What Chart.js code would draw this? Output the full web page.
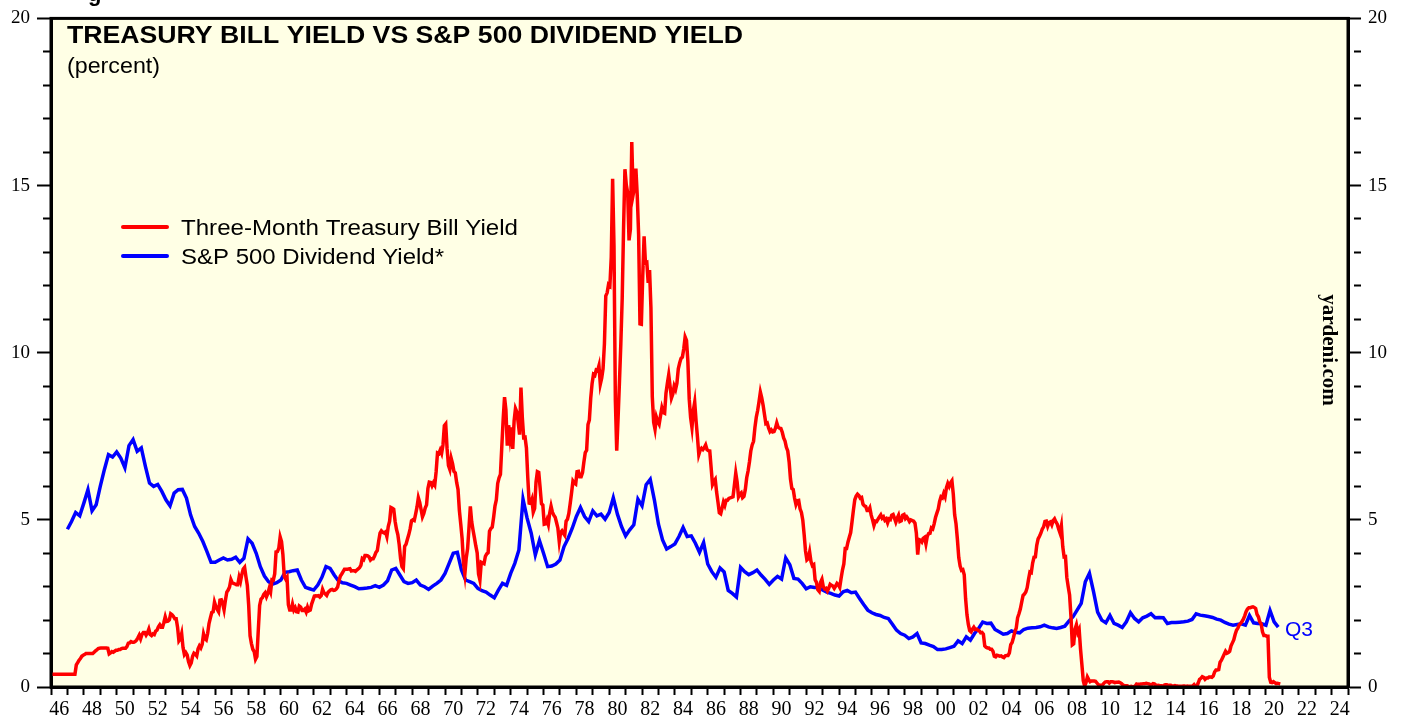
<!DOCTYPE html>
<html>
<head>
<meta charset="utf-8">
<script src="https://cdn.jsdelivr.net/npm/chart.js@4.4.1/dist/chart.umd.min.js"></script>
<style>
  html, body { margin: 0; padding: 0; background: #fff; }
  #wrap { width: 1407px; height: 719px; }
</style>
</head>
<body>
<div id="wrap"><canvas id="chart" width="1407" height="719"></canvas></div>
<script>
// Three-month T-bill yield, monthly from Jan 1946 (percent)
const tbillStart = 1946;
const tbillYield = [
  0.38,0.38,0.38,0.38,0.38,0.38,0.38,0.38,0.38,0.38,0.38,0.38,
  0.38,0.38,0.38,0.38,0.38,0.38,0.66,0.73,0.80,0.85,0.92,0.95,
  0.97,1.00,1.00,1.00,1.00,1.00,1.00,1.04,1.08,1.11,1.15,1.16,
  1.17,1.17,1.17,1.17,1.17,1.16,0.99,1.02,1.06,1.04,1.07,1.10,
  1.10,1.12,1.12,1.15,1.16,1.16,1.16,1.21,1.31,1.32,1.36,1.34,
  1.34,1.36,1.40,1.47,1.55,1.44,1.57,1.63,1.63,1.55,1.62,1.73,
  1.57,1.54,1.59,1.57,1.67,1.70,1.80,1.86,1.79,1.79,1.93,2.10,
  1.96,1.97,2.01,2.19,2.16,2.11,2.04,2.04,1.79,1.38,1.44,1.60,
  1.18,0.97,1.03,0.96,0.76,0.64,0.72,0.92,1.01,0.98,0.93,1.14,
  1.23,1.17,1.28,1.59,1.45,1.41,1.60,1.90,2.07,2.23,2.25,2.54,
  2.41,2.32,2.25,2.60,2.61,2.49,2.31,2.60,2.84,2.90,2.99,3.21,
  3.11,3.10,3.08,3.06,3.06,3.29,3.16,3.37,3.53,3.58,3.29,3.04,
  2.44,1.53,1.30,1.13,1.06,0.83,0.91,1.69,2.44,2.63,2.67,2.77,
  2.82,2.70,2.80,2.95,2.84,3.21,3.20,3.38,4.04,4.05,4.15,4.49,
  4.35,3.96,3.31,3.23,3.29,2.46,2.30,2.30,2.48,2.30,2.37,2.25,
  2.24,2.42,2.39,2.29,2.29,2.33,2.24,2.39,2.28,2.30,2.48,2.60,
  2.72,2.73,2.72,2.73,2.69,2.73,2.92,2.82,2.78,2.74,2.83,2.87,
  2.91,2.92,2.89,2.90,2.93,2.99,3.18,3.32,3.38,3.45,3.52,3.52,
  3.52,3.53,3.54,3.47,3.48,3.48,3.46,3.50,3.53,3.57,3.64,3.84,
  3.81,3.93,3.93,3.92,3.89,3.80,3.84,3.84,3.92,4.03,4.08,4.36,
  4.60,4.67,4.63,4.61,4.64,4.50,4.80,4.96,5.37,5.35,5.32,4.96,
  4.72,4.56,4.26,3.84,3.60,3.54,4.21,4.27,4.42,4.56,4.73,4.97,
  5.00,4.98,5.17,5.38,5.66,5.52,5.31,5.09,5.19,5.35,5.45,5.94,
  6.13,6.12,6.02,6.11,6.04,6.44,7.00,6.98,7.09,6.99,7.24,7.82,
  7.87,7.13,6.63,6.51,6.84,6.68,6.45,6.41,6.12,5.91,5.28,4.87,
  4.44,3.70,3.38,3.86,4.14,4.75,5.40,4.94,4.69,4.46,4.22,4.01,
  3.38,3.20,3.73,3.71,3.69,3.91,3.98,4.02,4.66,4.74,4.78,5.07,
  5.41,5.60,6.09,6.26,6.36,7.19,8.01,8.67,8.29,7.22,7.83,7.45,
  7.77,7.12,7.96,8.33,8.23,7.90,7.55,8.96,8.06,7.46,7.47,7.15,
  6.26,5.50,5.49,5.61,5.23,5.34,6.13,6.44,6.42,5.96,5.48,5.44,
  4.87,4.88,5.00,4.86,5.20,5.41,5.23,5.14,5.08,4.92,4.75,4.35,
  4.62,4.67,4.60,4.54,4.96,5.02,5.19,5.49,5.81,6.16,6.10,6.07,
  6.44,6.45,6.29,6.29,6.41,6.73,7.01,7.08,7.85,7.99,8.64,9.08,
  9.35,9.32,9.48,9.46,9.61,9.06,9.24,9.52,10.26,11.70,11.79,12.04,
  12.00,12.86,15.20,13.20,8.58,7.07,8.06,9.13,10.27,11.62,13.73,15.49,
  15.02,14.79,13.36,13.69,16.30,14.73,14.95,15.51,14.70,13.54,10.86,10.85,
  12.28,13.48,12.68,12.70,12.09,12.47,11.35,8.68,7.92,7.71,8.07,7.94,
  7.86,8.11,8.35,8.21,8.19,8.79,9.08,9.34,9.00,8.64,8.76,9.00,
  8.90,9.09,9.52,9.69,9.83,9.87,10.12,10.47,10.37,9.74,8.61,8.06,
  7.76,8.27,8.52,7.95,7.48,6.95,7.08,7.14,7.10,7.16,7.24,7.10,
  7.07,7.06,6.56,6.06,6.15,6.21,5.83,5.53,5.21,5.18,5.35,5.53,
  5.43,5.59,5.59,5.64,5.66,5.67,5.69,6.04,6.40,6.13,5.69,5.77,
  5.81,5.66,5.70,5.91,6.26,6.46,6.73,7.06,7.24,7.35,7.76,8.07,
  8.27,8.53,8.82,8.65,8.43,8.15,7.88,7.90,7.75,7.64,7.69,7.63,
  7.64,7.74,7.90,7.77,7.74,7.73,7.62,7.45,7.36,7.17,7.06,6.74,
  6.22,5.94,5.91,5.65,5.46,5.57,5.58,5.33,5.22,4.99,4.56,4.07,
  3.80,3.84,4.04,3.75,3.63,3.66,3.21,3.13,2.91,2.86,3.13,3.22,
  3.00,2.93,2.95,2.87,2.96,3.07,3.04,3.02,2.95,3.02,3.10,3.06,
  2.98,3.25,3.50,3.68,4.14,4.14,4.33,4.48,4.62,4.95,5.29,5.60,
  5.71,5.77,5.73,5.65,5.67,5.47,5.42,5.40,5.28,5.28,5.36,5.14,
  5.00,4.83,4.96,4.95,5.02,5.09,5.15,5.05,5.09,4.99,5.03,4.91,
  5.03,5.01,5.14,5.16,5.05,4.93,5.05,5.14,4.95,4.97,5.14,5.16,
  5.04,5.09,5.03,4.95,5.00,4.98,4.96,4.90,4.61,3.96,4.41,4.39,
  4.34,4.45,4.48,4.28,4.51,4.59,4.60,4.76,4.73,4.88,5.07,5.20,
  5.32,5.55,5.69,5.66,5.79,5.69,5.96,6.09,6.00,6.11,6.17,5.77,
  5.15,4.88,4.42,3.87,3.62,3.49,3.51,3.36,2.64,2.16,1.87,1.69,
  1.65,1.73,1.79,1.72,1.73,1.70,1.68,1.62,1.63,1.58,1.23,1.19,
  1.17,1.17,1.13,1.13,1.07,0.92,0.90,0.95,0.94,0.92,0.93,0.90,
  0.88,0.93,0.94,0.94,1.02,1.27,1.33,1.48,1.65,1.76,2.07,2.19,
  2.33,2.54,2.74,2.78,2.84,2.97,3.22,3.44,3.42,3.71,3.88,3.89,
  4.24,4.43,4.51,4.60,4.72,4.79,4.95,4.96,4.81,4.92,4.94,4.85,
  4.98,5.03,4.94,4.87,4.73,4.61,4.82,4.20,3.89,3.90,3.27,3.00,
  2.75,2.12,1.26,1.29,1.73,1.86,1.63,1.72,1.13,0.67,0.19,0.03,
  0.13,0.30,0.22,0.16,0.18,0.18,0.18,0.17,0.12,0.07,0.05,0.05,
  0.06,0.11,0.15,0.16,0.16,0.12,0.16,0.16,0.15,0.13,0.14,0.14,
  0.15,0.13,0.10,0.06,0.04,0.04,0.04,0.02,0.01,0.02,0.01,0.01,
  0.03,0.09,0.08,0.08,0.09,0.09,0.10,0.10,0.11,0.10,0.09,0.07,
  0.07,0.10,0.09,0.06,0.04,0.05,0.04,0.04,0.02,0.05,0.07,0.07,
  0.04,0.05,0.05,0.03,0.03,0.04,0.03,0.03,0.02,0.02,0.02,0.03,
  0.03,0.02,0.03,0.02,0.02,0.02,0.03,0.07,0.02,0.02,0.12,0.23,
  0.26,0.31,0.29,0.23,0.27,0.27,0.30,0.30,0.29,0.33,0.45,0.51,
  0.51,0.52,0.74,0.80,0.89,0.98,1.07,1.01,1.03,1.07,1.23,1.32,
  1.41,1.57,1.70,1.76,1.86,1.90,1.96,2.03,2.13,2.25,2.33,2.37,
  2.37,2.39,2.40,2.38,2.35,2.17,2.10,1.95,1.89,1.65,1.54,1.54,
  1.52,1.52,0.29,0.14,0.13,0.16,0.13,0.10,0.11,0.10,0.09
];

// S&P 500 dividend yield, quarterly from 1947 Q1 (percent)
const divStart = 1947;
const divYield = [
  4.72,4.95,5.22,5.12,  5.50,5.90,5.27,5.45,  6.00,6.50,6.95,6.88,
  7.03,6.85,6.56,7.22,  7.40,7.05,7.15,6.60,  6.10,6.00,6.06,5.85,
  5.60,5.42,5.80,5.90,  5.91,5.65,5.15,4.80,  4.60,4.35,4.05,3.73,
  3.73,3.80,3.86,3.80,  3.82,3.88,3.73,3.85,  4.43,4.30,4.00,3.60,
  3.32,3.15,3.08,3.12,  3.20,3.43,3.45,3.48,  3.50,3.20,2.98,2.94,
  2.90,3.05,3.28,3.60,  3.55,3.35,3.18,3.12,  3.10,3.05,3.00,2.94,
  2.95,2.96,2.98,3.03,  2.98,3.05,3.18,3.50,  3.55,3.35,3.15,3.10,
  3.12,3.20,3.05,3.00,  2.92,3.02,3.10,3.20,  3.40,3.70,4.00,4.03,
  3.50,3.20,3.15,3.10,  2.95,2.88,2.84,2.75,  2.67,2.90,3.10,3.04,
  3.40,3.70,4.10,5.62,  5.05,4.60,3.95,4.38,  4.00,3.60,3.62,3.68,
  3.80,4.20,4.45,4.75,  5.10,5.37,5.10,4.95,  5.27,5.12,5.17,5.02,
  5.22,5.66,5.17,4.80,  4.52,4.70,4.85,5.62,  5.42,6.05,6.21,5.60,
  4.87,4.40,4.13,4.20,  4.28,4.50,4.77,4.50,  4.52,4.30,4.03,4.32,
  3.68,3.45,3.28,3.56,  3.44,2.89,2.80,2.69,  3.58,3.45,3.36,3.42,
  3.50,3.35,3.22,3.07,  3.20,3.31,3.23,3.86,  3.66,3.25,3.23,3.10,
  2.94,3.00,2.98,2.98,  2.90,2.84,2.80,2.75,  2.72,2.85,2.89,2.82,
  2.84,2.65,2.47,2.30,  2.22,2.17,2.14,2.08,  2.05,1.88,1.70,1.60,
  1.55,1.45,1.50,1.60,  1.32,1.30,1.25,1.21,  1.12,1.12,1.14,1.18,
  1.22,1.38,1.30,1.50,  1.40,1.60,1.75,1.94,  1.90,1.91,1.72,1.65,
  1.58,1.60,1.68,1.64,  1.62,1.72,1.76,1.77,  1.78,1.80,1.85,1.80,
  1.77,1.75,1.78,1.82,  1.97,2.10,2.30,2.50,  3.15,3.40,2.85,2.24,
  2.00,1.92,2.14,1.90,  1.85,1.78,1.95,2.22,  2.05,1.95,2.07,2.12,
  2.19,2.07,2.08,2.07,  1.90,1.93,1.93,1.94,  1.95,1.97,2.02,2.19,
  2.15,2.13,2.11,2.08,  2.03,2.00,1.93,1.88,  1.85,1.87,1.89,1.85,
  2.14,1.92,1.90,1.89,  1.85,2.29,1.95,1.79
];

const yearTicks = [];
for (let y = 1946; y <= 2025; y++) yearTicks.push(y);
const yTicks = [];
for (let v = 0; v <= 20; v++) yTicks.push(v);

const tbillPoints = tbillYield.map((v, i) => ({ x: tbillStart + (i + 0.5) / 12, y: v }));
const divPoints = divYield.map((v, i) => ({ x: divStart + i / 4, y: v }));

const serif = 'Liberation Serif, Times New Roman, serif';
const sans = 'Liberation Sans, Arial, sans-serif';

// text stretched sideways to the width it has in the original
function wideText(ctx, text, x, y, width) {
  const sx = width / ctx.measureText(text).width;
  ctx.save();
  ctx.translate(x, y);
  ctx.scale(sx, 1);
  ctx.fillText(text, 0, 0);
  ctx.restore();
}

// background, frame and the text that sits inside the plot
const decorations = {
  id: 'decorations',
  beforeDraw(chart) {
    const { ctx, chartArea: a } = chart;
    ctx.save();
    ctx.fillStyle = '#ffffe5';
    ctx.fillRect(a.left, a.top, a.right - a.left, a.bottom - a.top);
    ctx.restore();
  },
  afterDraw(chart) {
    const { ctx, chartArea: a } = chart;
    const ds = chart.data.datasets;
    ctx.save();
    ctx.strokeStyle = '#000';
    ctx.lineWidth = 3;
    ctx.strokeRect(a.left, a.top, a.right - a.left, a.bottom - a.top);

    ctx.fillStyle = '#000';
    ctx.textBaseline = 'alphabetic';
    ctx.font = 'bold 22px ' + sans;
    ctx.fillText('g', 88, 1);
    ctx.font = 'bold 24px ' + sans;
    wideText(ctx, 'TREASURY BILL YIELD VS S&P 500 DIVIDEND YIELD', 67, 43, 676);
    ctx.font = '22px ' + sans;
    wideText(ctx, '(percent)', 67, 73, 93);

    // legend
    const rows = [[ds[0], 227, 235, 337], [ds[1], 256, 264, 263]];
    rows.forEach(([d, ly, ty, w]) => {
      ctx.strokeStyle = d.borderColor;
      ctx.lineWidth = 4;
      ctx.lineCap = 'round';
      ctx.beginPath();
      ctx.moveTo(123, ly);
      ctx.lineTo(167, ly);
      ctx.stroke();
      ctx.fillStyle = '#000';
      ctx.font = '22px ' + sans;
      wideText(ctx, d.label, 181, ty, w);
    });

    ctx.fillStyle = '#0000ff';
    ctx.font = '21px ' + sans;
    ctx.fillText('Q3', 1285, 636);

    ctx.translate(1328, 350);
    ctx.rotate(Math.PI / 2);
    ctx.fillStyle = '#000';
    ctx.font = 'bold 21px ' + serif;
    ctx.textAlign = 'center';
    ctx.textBaseline = 'middle';
    ctx.fillText('yardeni.com', 0, 0);
    ctx.restore();
  }
};

const yAxis = (position, width, major, minorDash) => ({
  type: 'linear',
  position: position,
  min: 0,
  max: 20,
  afterBuildTicks: s => { s.ticks = yTicks.map(v => ({ value: v })); },
  afterFit: s => { s.width = width; },
  ticks: {
    autoSkip: false,
    padding: 7,
    color: '#000',
    font: { family: serif, size: 19 },
    callback: v => (v % 5 === 0 ? String(v) : '')
  },
  grid: {
    drawOnChartArea: false,
    tickLength: major,
    tickWidth: 2,
    tickColor: '#000',
    tickBorderDash: c => (c.tick && c.tick.value % 5 === 0 ? [] : minorDash)
  },
  border: { display: true, color: '#000', width: 3 }
});

new Chart(document.getElementById('chart'), {
  type: 'line',
  data: {
    datasets: [
      {
        label: 'Three-Month Treasury Bill Yield',
        data: tbillPoints,
        borderColor: '#ff0000',
        borderWidth: 3.5,
        pointRadius: 0,
        tension: 0,
        yAxisID: 'y'
      },
      {
        label: 'S&P 500 Dividend Yield*',
        data: divPoints,
        borderColor: '#0000ff',
        borderWidth: 3.5,
        pointRadius: 0,
        tension: 0,
        yAxisID: 'y'
      }
    ]
  },
  options: {
    responsive: false,
    animation: false,
    layout: { padding: { top: 15, left: 0, right: 0, bottom: 0 } },
    plugins: { legend: { display: false }, tooltip: { enabled: false } },
    scales: {
      x: {
        type: 'linear',
        position: 'bottom',
        min: 1946,
        max: 2025,
        afterBuildTicks: s => { s.ticks = yearTicks.map(v => ({ value: v })); },
        afterFit: s => { s.height = 32; },
        ticks: {
          autoSkip: false,
          maxRotation: 0,
          labelOffset: 8.2,
          padding: 3,
          color: '#000',
          font: { family: serif, size: 20 },
          callback: v => (v % 2 === 0 && v < 2025 ? String(v % 100).padStart(2, '0') : '')
        },
        grid: { drawOnChartArea: false, tickLength: 8, tickWidth: 2, tickColor: '#000' },
        border: { display: true, color: '#000', width: 3 }
      },
      y: yAxis('left', 51, 14, [0, 6, 10, 100]),
      y2: yAxis('right', 59, 13, [0, 4, 10, 100])
    }
  },
  plugins: [decorations]
});
</script>
</body>
</html>
